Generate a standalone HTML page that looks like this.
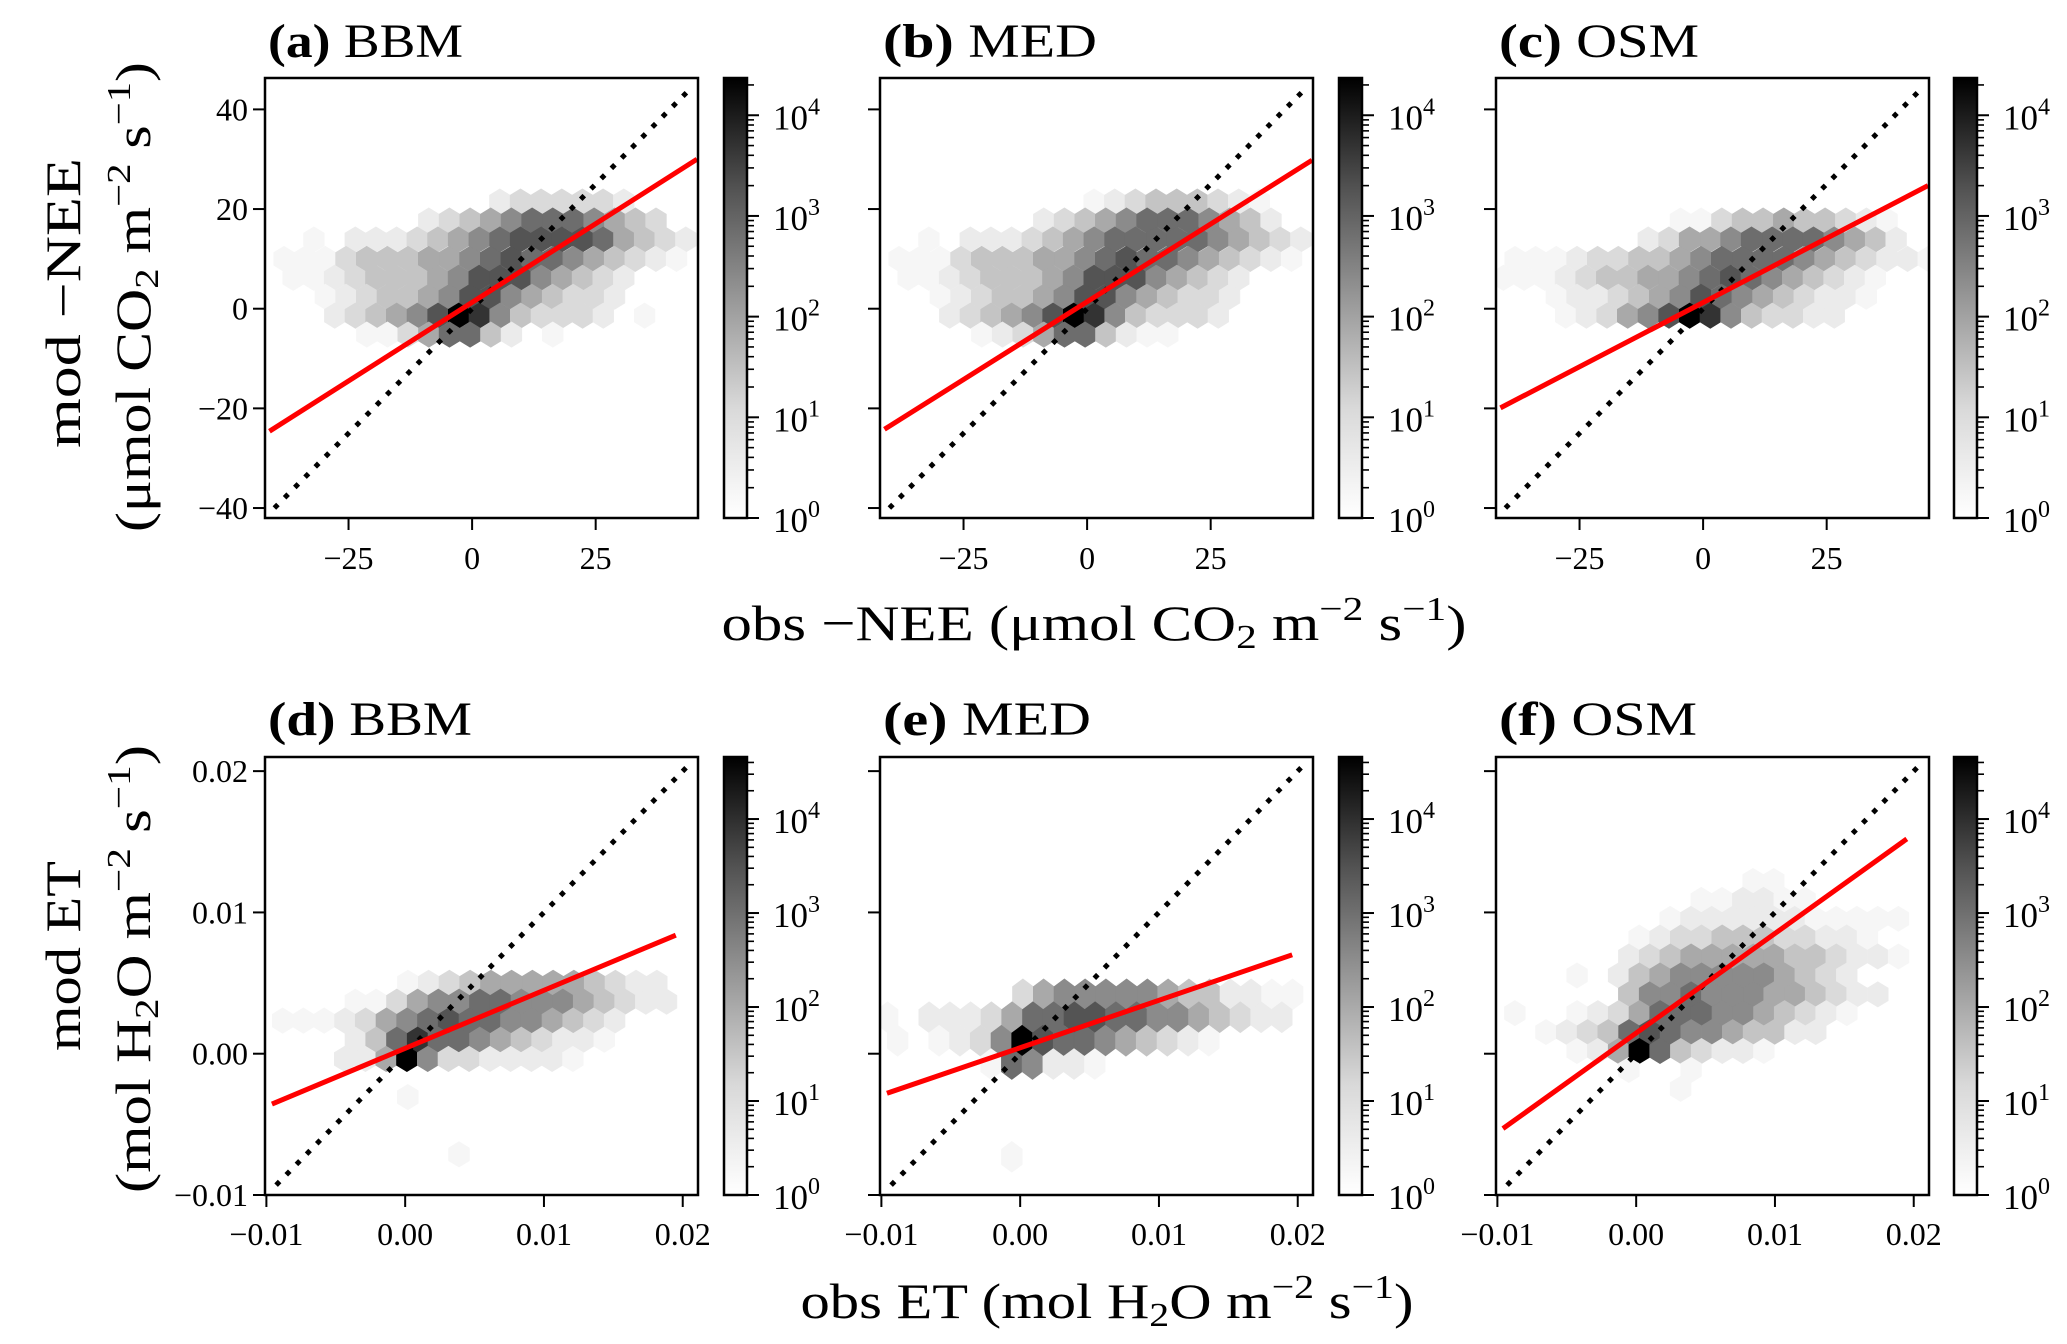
<!DOCTYPE html>
<html><head><meta charset="utf-8"><title>Hexbin comparison</title>
<style>
html,body{margin:0;padding:0;background:#fff;}
svg{display:block;font-family:"Liberation Serif",serif;}
</style></head>
<body>
<svg id="fig" width="2067" height="1344" viewBox="0 0 2067 1344" xmlns="http://www.w3.org/2000/svg">
<rect x="0" y="0" width="2067" height="1344" fill="#fff"/>
<g><text x="1094" y="640" font-size="50" text-anchor="middle" textLength="745" lengthAdjust="spacingAndGlyphs">obs −NEE (μmol CO<tspan font-size="34" dy="8">2</tspan><tspan dy="-8"> m</tspan><tspan font-size="34" dy="-20">−2</tspan><tspan dy="20"> s</tspan><tspan font-size="34" dy="-20">−1</tspan><tspan dy="20">)</tspan></text></g>
<g><text x="1107" y="1318" font-size="50" text-anchor="middle" textLength="613" lengthAdjust="spacingAndGlyphs">obs ET (mol H<tspan font-size="34" dy="8">2</tspan><tspan dy="-8">O m</tspan><tspan font-size="34" dy="-20">−2</tspan><tspan dy="20"> s</tspan><tspan font-size="34" dy="-20">−1</tspan><tspan dy="20">)</tspan></text></g>
<g>
<text transform="translate(80,303) rotate(-90)" font-size="50" text-anchor="middle" textLength="290" lengthAdjust="spacingAndGlyphs">mod −NEE</text>
<text transform="translate(150,297) rotate(-90)" font-size="50" text-anchor="middle" textLength="470" lengthAdjust="spacingAndGlyphs">(μmol CO<tspan font-size="34" dy="8">2</tspan><tspan dy="-8"> m</tspan><tspan font-size="34" dy="-20">−2</tspan><tspan dy="20"> s</tspan><tspan font-size="34" dy="-20">−1</tspan><tspan dy="20">)</tspan></text>
</g>
<g>
<text transform="translate(80,956) rotate(-90)" font-size="50" text-anchor="middle" textLength="190" lengthAdjust="spacingAndGlyphs">mod ET</text>
<text transform="translate(150,969) rotate(-90)" font-size="50" text-anchor="middle" textLength="448" lengthAdjust="spacingAndGlyphs">(mol H<tspan font-size="34" dy="8">2</tspan><tspan dy="-8">O m</tspan><tspan font-size="34" dy="-20">−2</tspan><tspan dy="20"> s</tspan><tspan font-size="34" dy="-20">−1</tspan><tspan dy="20">)</tspan></text>
</g>
</svg>
<script>
// ---------- data ----------
const panelLetters = ['(a)','(b)','(c)','(d)','(e)','(f)'];
const panelModels = ['BBM','MED','OSM','BBM','MED','OSM'];
const xTicksTop = [-25, 0, 25];
const xTickLabelsTop = ['−25','0','25'];
const yTicksTop = [40, 20, 0, -20, -40];
const yTickLabelsTop = ['40','20','0','−20','−40'];
const xTicksBot = [-0.01, 0, 0.01, 0.02];
const xTickLabelsBot = ['−0.01','0.00','0.01','0.02'];
const yTicksBot = [0.02, 0.01, 0, -0.01];
const yTickLabelsBot = ['0.02','0.01','0.00','−0.01'];
const xLimTop = [-41.9, 45.7];
const yLimTop = [-42.0, 46.3];
const xLimBot = [-0.0101, 0.0211];
const yLimBot = [-0.01, 0.021];
const cbarMaxTop = 4.37;
const cbarMaxBot = 4.66;
const cbarDecades = [0, 1, 2, 3, 4];
// regression line endpoints per panel [x0,y0,x1,y1]
const fitX0 = [-41, -41, -41, -0.0096, -0.0096, -0.0096];
const fitY0 = [-24.6, -24.2, -19.9, -0.00356, -0.0028, -0.0053];
const fitX1 = [45.5, 45.5, 45.5, 0.0195, 0.0196, 0.0195];
const fitY1 = [30.0, 29.8, 24.7, 0.00839, 0.0070, 0.0152];
// 1:1 line extent
const oneToOneTop = [-40, 44];
const oneToOneBot = [-0.0093, 0.0204];
// hexbin lattice steps (data units)
const hexDx = [4.18, 4.18, 4.18, 0.001495, 0.001495, 0.001495];
const hexDy = [3.82, 3.82, 3.82, 0.00135, 0.00164, 0.00134];
// hexbin rows: [y, firstX, shade string (0..9 log-count level, '.' empty)]
const hexA = [
 [21.5, 5.6, "1222221"],
 [17.7, -8.77, "123456665432"],
 [13.9, -32.0, "0.11123456777764321"],
 [10.0, -38.06, "00023334456766543210"],
 [6.2, -36.2, "00123334577754321"],
 [2.4, -29.7, "012334577543221"],
 [-1.4, -27.8, "12345798532221.0"],
 [-5.2, -21.3, "00246631.0"]
];
const hexB = [
 [21.5, 1.4, "012333210"],
 [17.7, -8.77, "123456665431"],
 [13.9, -32.0, "0.11123456666654321"],
 [10.0, -38.06, "00023334456766543210"],
 [6.2, -36.2, "00123334577754321"],
 [2.4, -29.7, "012334577543221"],
 [-1.4, -27.8, "12345798532221"],
 [-5.2, -21.3, "0124663100"]
];
const hexC = [
 [17.7, -4.58, "00233433210"],
 [13.9, -11.1, "1244566665431"],
 [10.0, -38.06, "000122334566665432110"],
 [6.2, -40.4, "0001233445676543210"],
 [2.4, -29.7, "0112345765432110"],
 [-1.4, -27.8, "01245798532211"]
];
const hexD = [
 [0.00502, 0.000195, "0123444443211"],
 [0.00368, -0.00359, "0024556655543211"],
 [0.00234, -0.00883, "00012456766554321"],
 [0.00099, -0.00359, "1368665432110"],
 [-0.00037, -0.00436, "114952211110"],
 [-0.00307, 0.00019, "0"],
 [-0.00712, 0.00388, "0"]
];
const hexE = [
 [0.0042, 0.000195, "24555554331100"],
 [0.00258, -0.00955, "0.111246677665543211"],
 [0.00092, -0.00883, "0.01259766543210"],
 [-0.00073, -0.0021, "065110"],
 [-0.0073, -0.0006, "0"]
];
const hexF = [
 [0.01223, 0.00842, "00"],
 [0.01089, 0.00469, "001100"],
 [0.00955, 0.00245, "011111100000"],
 [0.00822, 0.00022, "012233322110"],
 [0.00688, -0.00053, "12344444332110"],
 [0.00554, -0.00426, "0.134555554321"],
 [0.00420, -0.00053, "3556555443211"],
 [0.00287, -0.00874, "0..01246665543210"],
 [0.00153, -0.0065, "01236765543311"],
 [0.00019, -0.00426, "0149632110"],
 [-0.00115, -0.00053, "0..0"],
 [-0.00249, 0.0032, "0"]
];
const hexSets = [hexA, hexB, hexC, hexD, hexE, hexF];

// ---------- layout / style ----------
const shades = ['#f6f6f6','#ebebeb','#dadada','#c4c4c4','#a9a9a9','#8b8b8b','#6d6d6d','#545454','#333333','#000000'];
const titleWidths = [195, 214, 200, 204, 208, 198];
const axLeft = [265, 880, 1496];
const axW = 433;
const cbLeft = [724, 1339, 1954];
const cbW = 23;
const rowTop = [78, 757];
const rowBottom = [518, 1195];
const NS = 'http://www.w3.org/2000/svg';
const svg = document.getElementById('fig');

function mk(tag, attrs, parent) {
  const el = document.createElementNS(NS, tag);
  for (const k in attrs) el.setAttribute(k, attrs[k]);
  (parent || svg).appendChild(el);
  return el;
}

for (let p = 0; p < 6; p++) {
  const r = p < 3 ? 0 : 1;
  const c = p % 3;
  const L = axLeft[c], R = L + axW, T = rowTop[r], B = rowBottom[r];
  const xl = r === 0 ? xLimTop : xLimBot;
  const yl = r === 0 ? yLimTop : yLimBot;
  const sx = v => L + (v - xl[0]) / (xl[1] - xl[0]) * (R - L);
  const sy = v => B - (v - yl[0]) / (yl[1] - yl[0]) * (B - T);

  const g = mk('g', {});
  
  

  const clip = mk('clipPath', {id: 'clip' + p}, g);
  mk('rect', {x: L, y: T, width: axW, height: B - T}, clip);
  const plot = mk('g', {'clip-path': 'url(#clip' + p + ')'}, g);

  const dxp = Math.abs(sx(hexDx[p]) - sx(0));
  const dyp = Math.abs(sy(hexDy[p]) - sy(0));
  const hexG = mk('g', {}, plot);
  
  
  hexSets[p].forEach(row => {
    const cy = sy(row[0]);
    for (let i = 0; i < row[2].length; i++) {
      const ch = row[2][i];
      if (ch === '.') continue;
      const cx = sx(row[1] + i * hexDx[p]);
      const hw = dxp / 2, a = dyp * 2 / 3, b = dyp / 3;
      const pts = [[cx+hw, cy-b],[cx+hw, cy+b],[cx, cy+a],[cx-hw, cy+b],[cx-hw, cy-b],[cx, cy-a]]
        .map(q => q[0].toFixed(1) + ',' + q[1].toFixed(1)).join(' ');
      const col = shades[+ch];
      const hex = mk('polygon', {points: pts, fill: col, stroke: col, 'stroke-width': 0.6}, hexG);
      
      
    }
  });

  const o = r === 0 ? oneToOneTop : oneToOneBot;
  const dl = mk('line', {x1: sx(o[0]), y1: sy(o[0]), x2: sx(o[1]), y2: sy(o[1]), stroke: '#000', 'stroke-width': 5, 'stroke-dasharray': '5 9.5'}, plot);
  
  

  const fl = mk('line', {x1: sx(fitX0[p]), y1: sy(fitY0[p]), x2: sx(fitX1[p]), y2: sy(fitY1[p]), stroke: '#ff0000', 'stroke-width': 5}, plot);
  
  

  const fr = mk('rect', {x: L, y: T, width: axW, height: B - T, fill: 'none', stroke: '#000', 'stroke-width': 2.5}, g);
  
  

  const xt = r === 0 ? xTicksTop : xTicksBot;
  const xtl = r === 0 ? xTickLabelsTop : xTickLabelsBot;
  const yt = r === 0 ? yTicksTop : yTicksBot;
  const ytl = r === 0 ? yTickLabelsTop : yTickLabelsBot;
  xt.forEach((v, i) => {
    const x = sx(v);
    mk('line', {x1: x, y1: B, x2: x, y2: B + 12, stroke: '#000', 'stroke-width': 2}, g);
    const t = mk('text', {x: x, y: B + (r === 0 ? 51 : 50), 'font-size': 32, 'text-anchor': 'middle'}, g);
    t.textContent = xtl[i];
    
    
  });
  yt.forEach((v, i) => {
    const y = sy(v);
    mk('line', {x1: L - 12, y1: y, x2: L, y2: y, stroke: '#000', 'stroke-width': 2}, g);
    if (c === 0) {
      const t = mk('text', {x: L - 17, y: y + 11, 'font-size': 32, 'text-anchor': 'end'}, g);
      t.textContent = ytl[i];
      
      
    }
  });

  const tt = mk('text', {x: L + 3, y: r === 0 ? 57 : 735, 'font-size': 48, textLength: titleWidths[p], lengthAdjust: 'spacingAndGlyphs'}, g);
  
  
  const t1 = mk('tspan', {'font-weight': 'bold'}, tt);
  t1.textContent = panelLetters[p];
  const t2 = mk('tspan', {}, tt);
  t2.textContent = ' ' + panelModels[p];

  const cL = cbLeft[c];
  const cmax = r === 0 ? cbarMaxTop : cbarMaxBot;
  const cy = v => B - v / cmax * (B - T);
  const gid = 'grad' + p;
  const defs = mk('defs', {}, g);
  const lg = mk('linearGradient', {id: gid, x1: 0, y1: 1, x2: 0, y2: 0}, defs);
  [['0', '#ffffff'], ['0.25', '#d9d9d9'], ['0.5', '#979797'], ['0.75', '#525252'], ['1', '#000000']]
    .forEach(s => mk('stop', {offset: s[0], 'stop-color': s[1]}, lg));
  const cb = mk('rect', {x: cL, y: T, width: cbW, height: B - T, fill: 'url(#' + gid + ')', stroke: '#000', 'stroke-width': 2.5}, g);
  
  
  cbarDecades.forEach(d => {
    const y = cy(d);
    mk('line', {x1: cL + cbW, y1: y, x2: cL + cbW + 12, y2: y, stroke: '#000', 'stroke-width': 2}, g);
    for (let k = 2; k <= 9; k++) {
      const lv = d + Math.log10(k);
      if (lv > cmax) break;
      const ym = cy(lv);
      mk('line', {x1: cL + cbW, y1: ym, x2: cL + cbW + 7, y2: ym, stroke: '#000', 'stroke-width': 1.6}, g);
    }
    const lt = mk('text', {x: cL + cbW + 26, y: y + 14, 'font-size': 35}, g);
    
    
    const a = mk('tspan', {}, lt); a.textContent = '10';
    const e = mk('tspan', {'font-size': 24, dy: -15}, lt); e.textContent = String(d);
  });
}
</script>
</body></html>
